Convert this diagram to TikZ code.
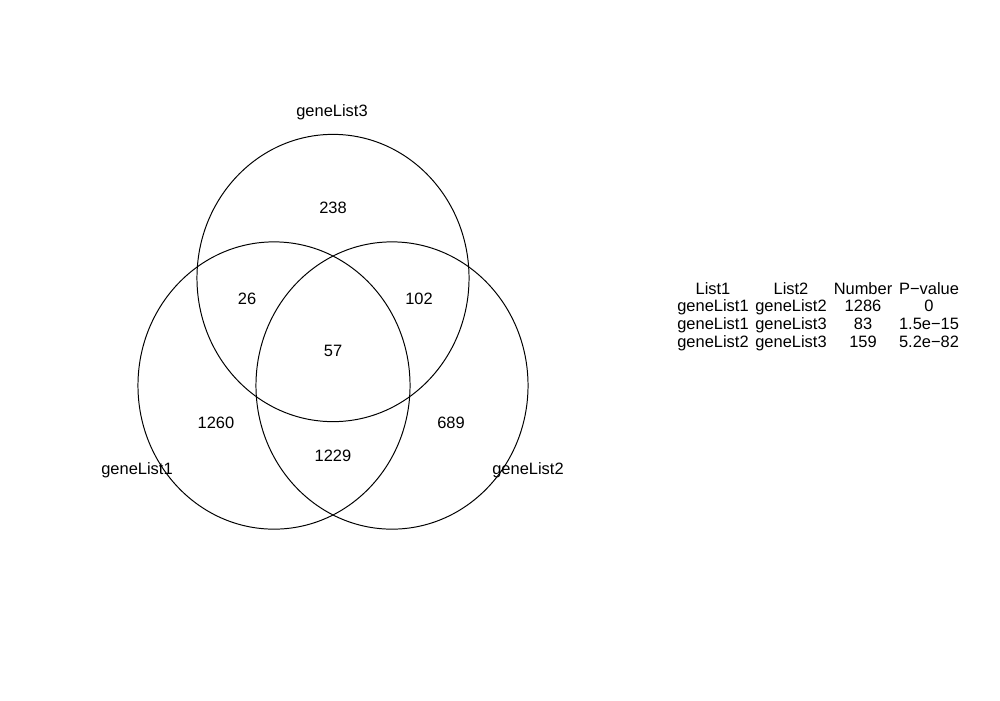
\documentclass[tikz,border=0pt]{standalone}
\usepackage{fontspec}
\setmainfont{Liberation Sans}
\usepackage{tikz}

\begin{document}
\begin{tikzpicture}[x=0.025cm,y=-0.025cm,line width=0.7pt,
    every node/.style={inner sep=0pt,anchor=base,font=\fontsize{11.7}{14}\selectfont}]
        \useasboundingbox (0,0) rectangle (1000,700);

        % Los tres conjuntos
        \draw (274,385.5) ellipse [x radius=3.4cm, y radius=3.59cm];
        \draw (392,385.5) ellipse [x radius=3.4cm, y radius=3.59cm];
        \draw (333,278) ellipse [x radius=3.4cm, y radius=3.59cm];

        % Nombres de las listas
        \node (lista1) at (137,474) {geneList1};
        \node (lista2) at (528,474) {geneList2};
        \node (lista3) at (332,116) {geneList3};

        % Cuentas de cada region
        \node (solo3) at (333,213) {238};
        \node (uno3) at (247,304) {26};
        \node (dos3) at (419,304) {102};
        \node (todos) at (333,356) {57};
        \node (solo1) at (216,428) {1260};
        \node (solo2) at (451,428) {689};
        \node (uno2) at (333,461) {1229};

        % Tabla de pares
        \node (cabA) at (713,294) {List1};
        \node (cabB) at (791,294) {List2};
        \node (cabC) at (863,294) {Number};
        \node (cabD) at (929,294) {P−value};
        \node (f1a) at (713,311) {geneList1};
        \node (f1b) at (791,311) {geneList2};
        \node (f1c) at (863,311) {1286};
        \node (f1d) at (929,311) {0};
        \node (f2a) at (713,329) {geneList1};
        \node (f2b) at (791,329) {geneList3};
        \node (f2c) at (863,329) {83};
        \node (f2d) at (929,329) {1.5e−15};
        \node (f3a) at (713,347) {geneList2};
        \node (f3b) at (791,347) {geneList3};
        \node (f3c) at (863,347) {159};
        \node (f3d) at (929,347) {5.2e−82};
\end{tikzpicture}
\end{document}
